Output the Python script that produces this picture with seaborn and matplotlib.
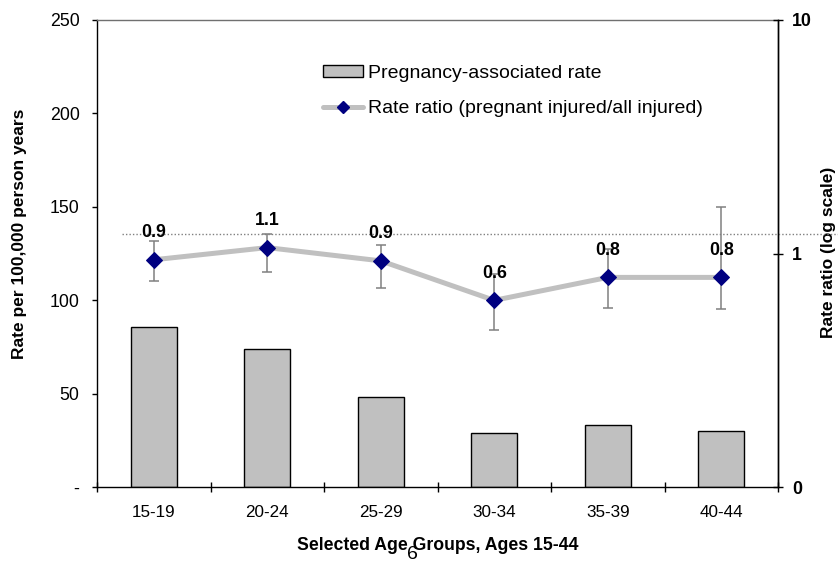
import numpy as np
import pandas as pd
import matplotlib
matplotlib.use("Agg")
import matplotlib.pyplot as plt
import seaborn as sns
from matplotlib.patches import Patch
from matplotlib.lines import Line2D
from matplotlib.ticker import NullLocator

# ---- data -------------------------------------------------------------
age_groups = ["15-19", "20-24", "25-29", "30-34", "35-39", "40-44"]
pregnancy_rate = [85.5, 73.7, 48.2, 29.1, 33.2, 30.0]          # per 100,000 person years
rate_ratio = [0.94, 1.06, 0.93, 0.63, 0.79, 0.79]              # pregnant injured / all injured
ratio_lower = [0.765, 0.83, 0.71, 0.47, 0.586, 0.577]
ratio_upper = [1.134, 1.21, 1.087, 0.82, 1.05, 1.586]
reference_ratio = 1.21

left_ticks = [0, 50, 100, 150, 200, 250]
left_tick_labels = ["-", "50", "100", "150", "200", "250"]
right_ticks = [0.1, 1, 10]
right_tick_labels = ["0", "1", "10"]

bar_label = "Pregnancy-associated rate"
line_label = "Rate ratio (pregnant injured/all injured)"

# ---- style ------------------------------------------------------------
sns.set_style("white")
plt.rcParams["font.family"] = ["Liberation Sans", "DejaVu Sans"]
for key in ["text.color", "axes.labelcolor", "xtick.color", "ytick.color"]:
    plt.rcParams[key] = "black"

BAR_GREY = "#C0C0C0"
NAVY = "#000080"
ERR_GREY = "#808080"

fig = plt.figure(figsize=(8.38, 5.63), dpi=100)
ax = fig.add_axes([97 / 838, 1 - 487 / 563, 681 / 838, 467 / 563])

df = pd.DataFrame({"age": age_groups, "rate": pregnancy_rate})
sns.barplot(data=df, x="age", y="rate", color=BAR_GREY, saturation=1,
            edgecolor="black", linewidth=1.0, width=0.405, ax=ax)

ax.set_ylim(0, 250)
ax.set_yticks(left_ticks, left_tick_labels)
ax.tick_params(axis="y", direction="out", length=3.6, width=1, pad=9.0,
               labelsize=12.8, colors="black", left=True)
ax.set_xticks(range(len(age_groups)), age_groups)
ax.tick_params(axis="x", which="major", length=0, pad=13, labelsize=12.3)
ax.set_xticks(np.arange(-0.5, len(age_groups)), minor=True)
ax.tick_params(axis="x", which="minor", direction="inout", length=7.7,
               width=1, color="black", bottom=True)

for side in ["left", "bottom", "right"]:
    ax.spines[side].set_color("black")
    ax.spines[side].set_linewidth(1.0)
ax.spines["top"].set_color("#707070")
ax.spines["top"].set_linewidth(1.0)

ax.set_xlabel("Selected Age Groups, Ages 15-44", fontsize=12.7, fontweight="bold")
ax.xaxis.set_label_coords(0.5, -0.106)
ax.set_ylabel("Rate per 100,000 person years", fontsize=12.5, fontweight="bold")
ax.yaxis.set_label_coords(-0.103, 0.542)

# ---- rate ratio on a log axis ----------------------------------------
ax2 = ax.twinx()
ax2.set_yscale("log")
pos = np.arange(len(age_groups))
ratio = np.array(rate_ratio)
yerr = [ratio - np.array(ratio_lower), np.array(ratio_upper) - ratio]

ax2.errorbar(pos, ratio, yerr=yerr, fmt="none", ecolor=ERR_GREY,
             elinewidth=1.1, capsize=3.6, capthick=1.1, zorder=3)
sns.lineplot(x=pos, y=ratio, ax=ax2, color=BAR_GREY, linewidth=3.6,
             marker="D", markersize=8.5, markerfacecolor=NAVY,
             markeredgecolor=NAVY, zorder=4)

for i, v in enumerate(rate_ratio):
    ax2.annotate(f"{v:.1f}", (i, v), xytext=(0, 27), textcoords="offset pixels",
                 ha="center", va="center", fontsize=12.8, fontweight="bold",
                 color="black", zorder=6)

ax2.hlines(reference_ratio, -0.28, 6.05, colors=ERR_GREY, linestyles=(0, (1, 1.5)),
           linewidth=1.0, clip_on=False, zorder=2)

ax2.set_ylim(0.1, 10)
ax2.set_yticks(right_ticks, right_tick_labels)
ax2.yaxis.set_minor_locator(NullLocator())
ax2.tick_params(axis="y", direction="inout", length=6.5, width=1, pad=6.75,
                labelsize=12.8, right=True, colors="black")
for lbl in ax2.get_yticklabels():
    lbl.set_fontweight("bold")
ax2.set_ylabel("Rate ratio (log scale)", fontsize=12.5, fontweight="bold",
               rotation=90)
ax2.yaxis.set_label_coords(1.063, 0.503)
for side in ["left", "bottom", "top"]:
    ax2.spines[side].set_visible(False)
ax2.spines["right"].set_color("black")
ax2.spines["right"].set_linewidth(1.0)

ax.set_xlim(-0.5, len(age_groups) - 0.5)

# ---- legend -----------------------------------------------------------
handles = [
    Patch(facecolor=BAR_GREY, edgecolor="black", linewidth=1.0),
    Line2D([], [], color=BAR_GREY, linewidth=3.6, marker="D", markersize=6,
           markerfacecolor=NAVY, markeredgecolor=NAVY),
]
ax2.legend(handles, [bar_label, line_label], loc="upper left",
           bbox_to_anchor=(323 / 838, 1 - 65 / 563), bbox_transform=fig.transFigure,
           frameon=False, fontsize=14, handlelength=2.05, handleheight=0.55,
           handletextpad=0.25, labelspacing=0.95, borderpad=0, borderaxespad=0)

# page number
fig.text(412 / 838, 0.0, "6", fontsize=14, ha="center", va="bottom")

fig.savefig("out.png", dpi=100)
